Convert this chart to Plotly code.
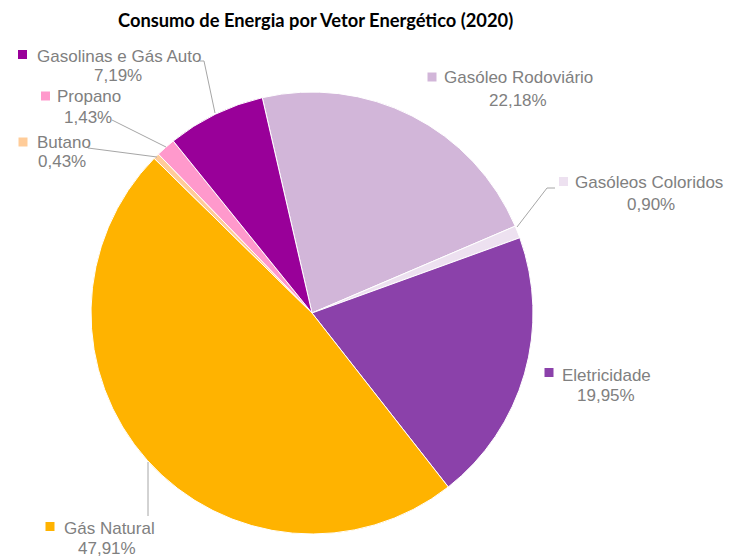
import plotly.graph_objects as go

# ---- data ----
categories = ["Gasóleo Rodoviário", "Gasóleos Coloridos", "Eletricidade",
              "Gás Natural", "Butano", "Propano", "Gasolinas e Gás Auto"]
shares = [22.18, 0.90, 19.95, 47.91, 0.43, 1.43, 7.19]
colors = ["#D2B6D9", "#EDE1F0", "#8B41AA", "#FFB300", "#FFCC99", "#FF99CC", "#990099"]
title_text = "Consumo de Energia por Vetor Energético (2020)"

W, H = 731, 558

# ---- label layout (pixel positions) ----
# name: (square_cx, square_cy, name_left, name_cy, pct_cx, pct_cy)
label_pos = {
    "Gasolinas e Gás Auto": (22.5, 54.5, 35, 56, 118, 76),
    "Propano": (45.5, 96, 55, 96, 88, 117),
    "Butano": (23, 142, 35, 143, 62, 162),
    "Gasóleo Rodoviário": (432, 77, 442, 78, 518, 100),
    "Gasóleos Coloridos": (563.5, 181.5, 573, 183, 651, 204),
    "Eletricidade": (549, 372.5, 560, 375, 606, 395),
    "Gás Natural": (50, 526.5, 62, 528, 107, 548),
}
leader_paths = [
    [(200, 61), (204, 61), (215, 113)],
    [(112, 120), (166, 147)],
    [(88, 148), (157, 157)],
    [(555, 188), (547, 188), (517, 227)],
    [(148, 516), (148, 462)],
]

def px(x):
    return x / W

def py(y):
    return 1 - y / H

fig = go.Figure(go.Pie(
    labels=categories,
    values=shares,
    marker=dict(colors=colors, line=dict(color="white", width=1)),
    sort=False,
    direction="clockwise",
    rotation=-13,
    textinfo="none",
    showlegend=False,
    domain=dict(x=[px(91), px(533)], y=[py(534), py(92)]),
))

text_color = "#808080"
font_family = "Liberation Sans, Arial, sans-serif"
annotations = []
shapes = []
color_map = dict(zip(categories, colors))
for name, v in zip(categories, shares):
    sx, sy, nx, ny, pcx, pcy = label_pos[name]
    shapes.append(dict(type="rect", xref="paper", yref="paper",
                       x0=px(sx - 4.5), x1=px(sx + 4.5), y0=py(sy + 4.5), y1=py(sy - 4.5),
                       fillcolor=color_map[name], line=dict(width=0)))
    annotations.append(dict(text=name, x=px(nx), y=py(ny), xref="paper", yref="paper",
                            xanchor="left", yanchor="middle", showarrow=False,
                            font=dict(size=17, color=text_color, family=font_family)))
    annotations.append(dict(text=f"{v:.2f}".replace(".", ",") + "%", x=px(pcx), y=py(pcy),
                            xref="paper", yref="paper", xanchor="center", yanchor="middle",
                            showarrow=False,
                            font=dict(size=17, color=text_color, family=font_family)))

for path in leader_paths:
    d = "M " + " L ".join(f"{px(x)},{py(y)}" for x, y in path)
    shapes.append(dict(type="path", xref="paper", yref="paper", path=d,
                       line=dict(color="#A6A6A6", width=1)))

annotations.append(dict(text="<b>" + title_text + "</b>", x=px(315.5), y=py(20),
                        xref="paper", yref="paper", xanchor="center", yanchor="middle",
                        showarrow=False,
                        font=dict(size=18.3, color="#000000", family="Lato, sans-serif")))

fig.update_layout(
    width=W, height=H,
    margin=dict(l=0, r=0, t=0, b=0),
    paper_bgcolor="white",
    plot_bgcolor="white",
    annotations=annotations,
    shapes=shapes,
)

fig.write_html("out.html",
               config={"displayModeBar": False},
               post_script="document.body.style.margin='0';document.body.style.overflow='hidden';")
